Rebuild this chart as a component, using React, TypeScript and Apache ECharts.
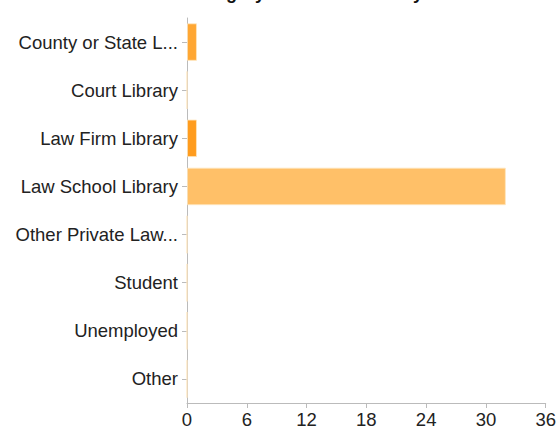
import React, { useEffect, useRef } from "react";
import * as echarts from "echarts";

const title = "Category of Current Library";
const categories = [
  "County or State Law Library",
  "Court Library",
  "Law Firm Library",
  "Law School Library",
  "Other Private Law Library",
  "Student",
  "Unemployed",
  "Other",
];
const values = [1, 0, 1, 32, 0, 0, 0, 0];
const barColors = ["#FFA733", "#FFA733", "#FF9C1E", "#FFC068", "#FFA733", "#FFA733", "#FFA733", "#FFA733"];
const xTicks = [0, 6, 12, 18, 24, 30, 36];

export default function App() {
  const ref = useRef<HTMLDivElement>(null);
  useEffect(() => {
    const chart = echarts.init(ref.current!, null, { renderer: "svg" });
    const font = "Helvetica, Arial, 'Liberation Sans', sans-serif";
    chart.setOption({
      animation: false,
      title: {
        text: title,
        left: 300,
        textAlign: "center",
        top: -21,
        textStyle: { fontFamily: font, fontSize: 18, fontWeight: "bold", color: "#111" },
      },
      grid: { left: 187, right: 11, top: 18, bottom: 27, containLabel: false },
      xAxis: {
        type: "value",
        min: 0,
        max: xTicks[xTicks.length - 1],
        interval: 6,
        axisLine: { show: true, lineStyle: { color: "#bbbbbb", width: 1 } },
        axisTick: { show: true, length: 5, lineStyle: { color: "#bbbbbb" } },
        splitLine: { show: false },
        axisLabel: { fontFamily: font, fontSize: 18.5, color: "#222", margin: 7 },
      },
      yAxis: {
        type: "category",
        inverse: true,
        data: categories,
        axisLine: { show: true, lineStyle: { color: "#bbbbbb", width: 1 } },
        axisTick: { show: true, length: 5, alignWithLabel: true, lineStyle: { color: "#bbbbbb" } },
        axisLabel: {
          fontFamily: font,
          fontSize: 18.5,
          color: "#222",
          margin: 9,
          formatter: (s: string) => (s.length > 20 ? s.slice(0, 17) + "..." : s),
        },
      },
      series: [
        {
          type: "bar",
          barWidth: "78%",
          data: values.map((v, i) => ({
            value: v,
            itemStyle: { color: barColors[i], borderColor: "rgba(255,230,190,0.8)", borderWidth: 1 },
          })),
        },
      ],
    });
    return () => chart.dispose();
  }, []);
  return <div ref={ref} style={{ width: 559, height: 430, position: "absolute", left: 0, top: 0 }} />;
}
